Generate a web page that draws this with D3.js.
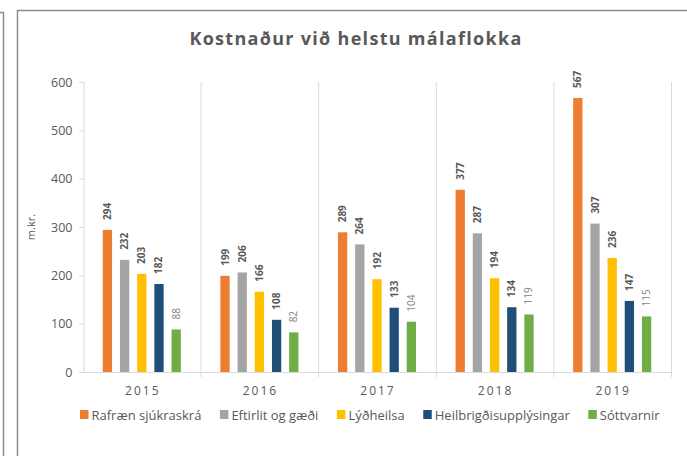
<!DOCTYPE html>
<html>
<head>
<meta charset="utf-8">
<script src="https://cdn.jsdelivr.net/npm/d3@7"></script>
<style>
  body { margin: 0; background: #fff; }
  text { font-family: "Open Sans", "DejaVu Sans", sans-serif; fill: #595959; }
</style>
</head>
<body>
<div id="vis"></div>
<script>
const FRAME_WIDTH = 687;
const FRAME_HEIGHT = 456;
const MARGINS = {left: 83, right: 16, top: 82, bottom: 84};

const VIS_WIDTH = FRAME_WIDTH - MARGINS.left - MARGINS.right;
const VIS_HEIGHT = FRAME_HEIGHT - MARGINS.top - MARGINS.bottom;

// data (m.kr.)
const YEARS = ["2015", "2016", "2017", "2018", "2019"];
const SERIES = ["Rafræn sjúkraskrá", "Eftirlit og gæði", "Lýðheilsa", "Heilbrigðisupplýsingar", "Sóttvarnir"];
const RAFRAEN = [294, 199, 289, 377, 567];
const EFTIRLIT = [232, 206, 264, 287, 307];
const LYDHEILSA = [203, 166, 192, 194, 236];
const HEILBRIGDI = [182, 108, 133, 134, 147];
const SOTTVARNIR = [88, 82, 104, 119, 115];
const Y_TICKS = [0, 100, 200, 300, 400, 500, 600];
const COLORS = ["#ED7D31", "#A5A5A5", "#FFC000", "#1F4E79", "#70AD47"];

const VALUES = [RAFRAEN, EFTIRLIT, LYDHEILSA, HEILBRIGDI, SOTTVARNIR];

const SVG = d3.select("#vis")
              .append("svg")
              .attr("width", FRAME_WIDTH)
              .attr("height", FRAME_HEIGHT);

// frame lines (neighbouring box + chart box)
SVG.append("path")
   .attr("d", "M0,12.5 H3.5 V456")
   .attr("fill", "none")
   .attr("stroke", "#8c8c8c")
   .attr("stroke-width", 1.5);
SVG.append("path")
   .attr("d", "M17.5,456 V10.5 H687")
   .attr("fill", "none")
   .attr("stroke", "#8c8c8c")
   .attr("stroke-width", 1.5);

// title
SVG.append("text")
   .attr("x", 356)
   .attr("y", 45)
   .attr("text-anchor", "middle")
   .style("font-size", "18px")
   .style("font-weight", "bold")
   .style("letter-spacing", "1.3px")
   .text("Kostnaður við helstu málaflokka");

const X_SCALE = d3.scaleBand()
                  .domain(YEARS)
                  .range([MARGINS.left, MARGINS.left + VIS_WIDTH])
                  .padding(0);

const S_SCALE = d3.scaleBand()
                  .domain(SERIES)
                  .range([0, X_SCALE.bandwidth()])
                  .paddingInner(0.46)
                  .paddingOuter(1.15);

const Y_SCALE = d3.scaleLinear()
                  .domain([0, 600])
                  .range([MARGINS.top + VIS_HEIGHT, MARGINS.top]);

const BASE = Y_SCALE(0);

// category separators with ticks below baseline
SVG.append("g")
   .selectAll("line")
   .data(YEARS.slice(1).map((y) => X_SCALE(y)).concat([X_SCALE.range()[1]]))
   .enter()
   .append("line")
     .attr("x1", (d) => d + 0.5)
     .attr("x2", (d) => d + 0.5)
     .attr("y1", Y_SCALE(600))
     .attr("y2", BASE + 5)
     .attr("stroke", "#d9d9d9");

// y axis
const yAxis = SVG.append("g")
   .attr("transform", "translate(" + (MARGINS.left + 0.5) + ",0)")
   .call(d3.axisLeft(Y_SCALE).tickValues(Y_TICKS).tickSize(4).tickPadding(7));
yAxis.select(".domain").attr("stroke", "#d9d9d9");
yAxis.selectAll(".tick line").attr("stroke", "#d9d9d9");
yAxis.selectAll(".tick text")
     .attr("fill", "#595959")
     .style("font-size", "12.5px")
     .style("font-family", "'Open Sans', sans-serif");

// baseline
SVG.append("line")
   .attr("x1", MARGINS.left - 4)
   .attr("x2", X_SCALE.range()[1] + 0.5)
   .attr("y1", BASE + 0.5)
   .attr("y2", BASE + 0.5)
   .attr("stroke", "#d9d9d9");

// year labels
SVG.append("g")
   .selectAll("text")
   .data(YEARS)
   .enter()
   .append("text")
     .attr("x", (d) => X_SCALE(d) + X_SCALE.bandwidth() / 2 + 1)
     .attr("y", BASE + 23)
     .attr("text-anchor", "middle")
     .style("font-size", "12px")
     .style("letter-spacing", "2px")
     .text((d) => d);

// y axis title
SVG.append("text")
   .attr("transform", "translate(35," + ((Y_SCALE(0) + Y_SCALE(600)) / 2) + ") rotate(-90)")
   .attr("text-anchor", "middle")
   .style("font-size", "11px")
   .text("m.kr.");

// bars
const ROWS = [];
SERIES.forEach((s, i) => {
  YEARS.forEach((y, j) => {
    ROWS.push({series: s, idx: i, year: y, value: VALUES[i][j]});
  });
});

SVG.append("g")
   .selectAll("rect")
   .data(ROWS)
   .enter()
   .append("rect")
     .attr("x", (d) => X_SCALE(d.year) + S_SCALE(d.series))
     .attr("y", (d) => Y_SCALE(d.value))
     .attr("width", S_SCALE.bandwidth())
     .attr("height", (d) => BASE - Y_SCALE(d.value))
     .attr("fill", (d) => COLORS[d.idx]);

// value labels, rotated
SVG.append("g")
   .selectAll("text")
   .data(ROWS)
   .enter()
   .append("text")
     .attr("transform", (d) => "translate(" + (X_SCALE(d.year) + S_SCALE(d.series) + S_SCALE.bandwidth() / 2 + 3.5) +
           "," + (Y_SCALE(d.value) - 10) + ") rotate(-90)")
     .attr("text-anchor", "start")
     .style("font-size", "10px")
     .style("font-weight", (d) => d.idx === 4 ? "normal" : "bold")
     .style("fill", (d) => d.idx === 4 ? "#7f7f7f" : "#595959")
     .text((d) => d.value);

// legend, laid out by text width
const LEGEND = SVG.append("g").attr("transform", "translate(80,410)");
let lx = 0;
SERIES.forEach((s, i) => {
  const item = LEGEND.append("g").attr("transform", "translate(" + lx + ",0)");
  item.append("rect")
      .attr("width", 8.5)
      .attr("height", 9)
      .attr("fill", COLORS[i]);
  const t = item.append("text")
      .attr("x", 11.5)
      .attr("y", 9.5)
      .style("font-size", "13px")
      .text(s);
  lx += 11.5 + t.node().getComputedTextLength() + 18.5;
});
</script>
</body>
</html>
